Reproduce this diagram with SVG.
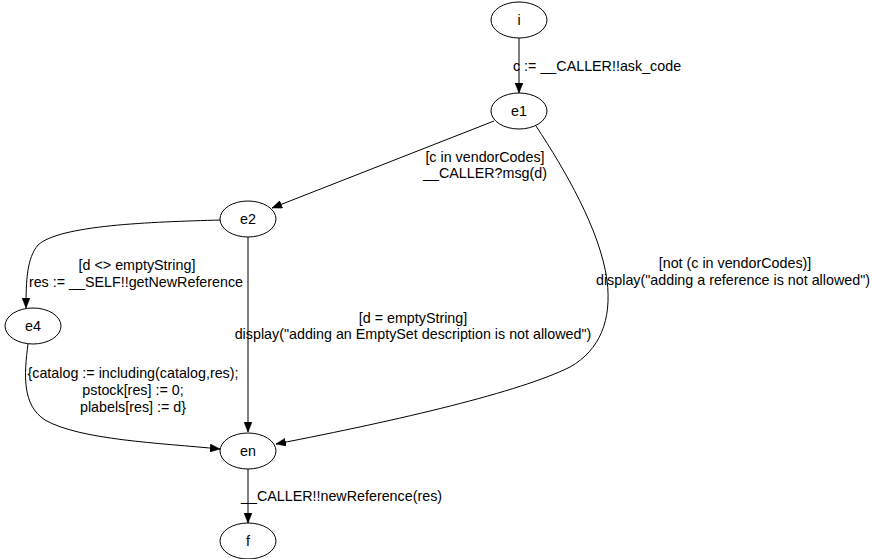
<svg xmlns="http://www.w3.org/2000/svg" width="872" height="559" viewBox="0 0 872 559">
<style>
.node ellipse{fill:#fff;stroke:#000;stroke-width:1}
.node text,.lbl{font-family:"Liberation Sans",Arial,sans-serif;font-size:14.3px;fill:#000}
.node text{text-anchor:middle}
.edge{fill:none;stroke:#000;stroke-width:1}
.mid{text-anchor:middle}
</style>
<defs>
<marker id="ah" markerWidth="10" markerHeight="8" refX="10" refY="4" orient="auto" markerUnits="userSpaceOnUse">
<path d="M0,0 L10,4 L0,8 Z" fill="#000" stroke="#000" stroke-width="0.5"/>
</marker>
</defs>
<rect width="872" height="559" fill="#fff"/>
<g id="connectors">
<path class="edge" d="M519,38 L519,93" marker-end="url(#ah)"/>
<path class="edge" d="M494,121 L272,208" marker-end="url(#ah)"/>
<path class="edge" d="M536,126 C565,170 600,230 607,280 C612,320 600,350 570,367 C520,392 400,420 276,444" marker-end="url(#ah)"/>
<path class="edge" d="M221,220 C150,222 60,225 38,245 C27,258 26,280 26,308" marker-end="url(#ah)"/>
<path class="edge" d="M248,237 L248,432" marker-end="url(#ah)"/>
<path class="edge" d="M28,344 C24,375 22,405 45,420 C80,440 160,443 220,449" marker-end="url(#ah)"/>
<path class="edge" d="M248,469 L248,523" marker-end="url(#ah)"/>
<text class="lbl" x="513" y="71">c := __CALLER!!ask_code</text>
<text class="lbl mid" x="485" y="162">[c in vendorCodes]</text>
<text class="lbl mid" x="485" y="178">__CALLER?msg(d)</text>
<text class="lbl mid" x="137" y="270">[d &lt;&gt; emptyString]</text>
<text class="lbl mid" x="136" y="287">res := __SELF!!getNewReference</text>
<text class="lbl mid" x="413" y="323">[d = emptyString]</text>
<text class="lbl mid" x="413" y="339">display("adding an EmptySet description is not allowed")</text>
<text class="lbl mid" x="735" y="268">[not (c in vendorCodes)]</text>
<text class="lbl mid" x="733" y="285">display("adding a reference is not allowed")</text>
<text class="lbl mid" x="133" y="378">{catalog := including(catalog,res);</text>
<text class="lbl mid" x="133" y="395">pstock[res] := 0;</text>
<text class="lbl mid" x="133" y="412">plabels[res] := d}</text>
<text class="lbl" x="241" y="501">__CALLER!!newReference(res)</text>
</g>
<g id="node-i" class="node"><ellipse cx="519" cy="20" rx="28" ry="18"/><text x="519" y="25">i</text></g>
<g id="node-e1" class="node"><ellipse cx="519" cy="111" rx="28" ry="18"/><text x="519" y="116">e1</text></g>
<g id="node-e2" class="node"><ellipse cx="248" cy="219" rx="28" ry="18"/><text x="248" y="224">e2</text></g>
<g id="node-e4" class="node"><ellipse cx="33" cy="326" rx="28" ry="18"/><text x="33" y="331">e4</text></g>
<g id="node-en" class="node"><ellipse cx="248" cy="451" rx="28" ry="18"/><text x="248" y="456">en</text></g>
<g id="node-f" class="node"><ellipse cx="248" cy="541" rx="28" ry="18"/><text x="248" y="546">f</text></g>
</svg>
